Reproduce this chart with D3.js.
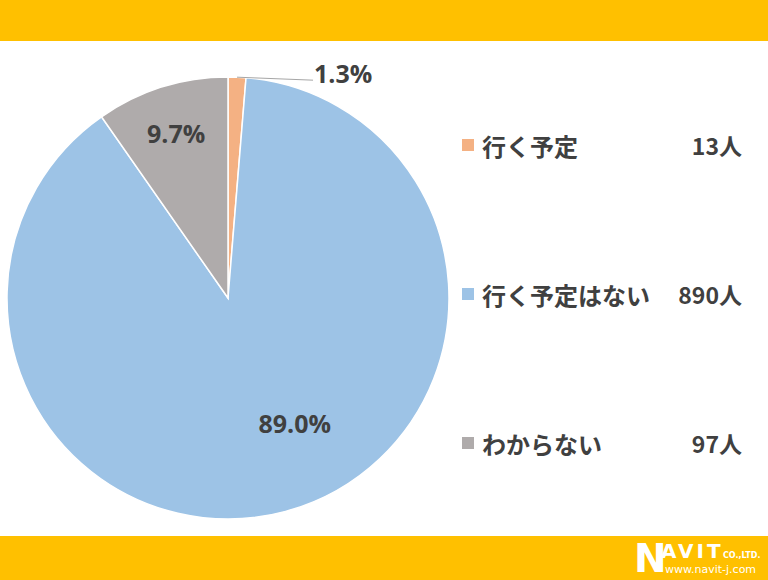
<!DOCTYPE html>
<html><head><meta charset="utf-8">
<script src="https://cdn.jsdelivr.net/npm/d3@7"></script>
<style>body{margin:0;background:#fff}svg{display:block}</style>
</head><body>
<svg id="c" width="768" height="580"></svg>
<script>
const categories = ["行く予定", "行く予定はない", "わからない"];
const values = [13, 890, 97];
const units = ["13人", "890人", "97人"];
const percentLabels = ["1.3%", "89.0%", "9.7%"];
const colors = ["#F4B183", "#9DC3E6", "#AFABAB"];

const W = 768, H = 580;
const svg = d3.select("#c");
const txt = "#404040";
const jp = "'Noto Sans CJK JP','Noto Sans',sans-serif";
const num = "'Open Sans','Noto Sans',sans-serif";

// bars
svg.append("rect").attr("x",0).attr("y",0).attr("width",W).attr("height",41).attr("fill","#FFC000");
svg.append("rect").attr("x",0).attr("y",536).attr("width",W).attr("height",44).attr("fill","#FFC000");

const cx = 228, cy = 298, R = 221;
const g = svg.append("g").attr("transform",`translate(${cx},${cy})`);
const pie = d3.pie().sort(null).value(d=>d);
const arcs = pie(values);
const arc = d3.arc().innerRadius(0).outerRadius(R);

g.selectAll("path").data(arcs).join("path")
  .attr("d",arc).attr("fill",(d,i)=>colors[i])
  .attr("stroke","#fff").attr("stroke-width",1.5);

// labels
const labelCfg = [
  {outside:true},
  {r:142, da:-12.9},
  {r:173, da:0}
];
arcs.forEach((a,i)=>{
  const cfg = labelCfg[i];
  const mid = (a.startAngle + a.endAngle)/2;
  if (cfg.outside) {
    const x0 = Math.sin(mid)*R, y0 = -Math.cos(mid)*R;
    const x1 = x0 + 76, y1 = y0 + 3;
    g.append("line").attr("x1",x0).attr("y1",y0).attr("x2",x1).attr("y2",y1)
      .attr("stroke","#A6A6A6").attr("stroke-width",1);
    g.append("text").attr("x",x1+1).attr("y",y1-7).attr("dominant-baseline","central")
      .attr("font-family",num).attr("font-weight","bold").attr("font-size",25)
      .attr("fill",txt).text(percentLabels[i]);
  } else {
    const ang = mid + cfg.da*Math.PI/180;
    const x = Math.sin(ang)*cfg.r, y = -Math.cos(ang)*cfg.r;
    g.append("text").attr("x",x).attr("y",y).attr("text-anchor","middle")
      .attr("dominant-baseline","central")
      .attr("font-family",num).attr("font-weight","bold").attr("font-size",25)
      .attr("fill",txt).text(percentLabels[i]);
  }
});

// legend
const ly = d3.scalePoint().domain(categories).range([145, 443]);
const lg = svg.append("g");
categories.forEach((c,i)=>{
  const y = ly(c);
  lg.append("rect").attr("x",462).attr("y",y-6).attr("width",12).attr("height",12).attr("fill",colors[i]);
  lg.append("text").attr("x",482).attr("y",y).attr("dominant-baseline","central")
    .attr("font-family",jp).attr("font-weight","bold").attr("font-size",24)
    .attr("fill",txt).text(c);
  lg.append("text").attr("x",742).attr("y",y).attr("text-anchor","end").attr("dominant-baseline","central")
    .attr("font-family",jp).attr("font-weight","bold").attr("font-size",23)
    .attr("fill",txt).text(units[i]);
});

// logo
const logo = svg.append("g").attr("fill","#fff");
logo.append("text").attr("x",634).attr("y",572).attr("font-family","'DejaVu Sans',sans-serif")
  .attr("font-weight","bold").attr("font-size",39).text("N");
logo.append("text").attr("x",661).attr("y",558).attr("font-family","'DejaVu Sans',sans-serif")
  .attr("font-weight","bold").attr("font-size",20).attr("letter-spacing",3).text("AVIT");
logo.append("text").attr("x",723).attr("y",558).attr("font-family","'DejaVu Sans',sans-serif")
  .attr("font-weight","bold").attr("font-size",8).text("CO.,LTD.");
logo.append("text").attr("x",665).attr("y",573).attr("font-family","'DejaVu Sans',sans-serif")
  .attr("font-size",11).text("www.navit-j.com");
</script>
</body></html>
